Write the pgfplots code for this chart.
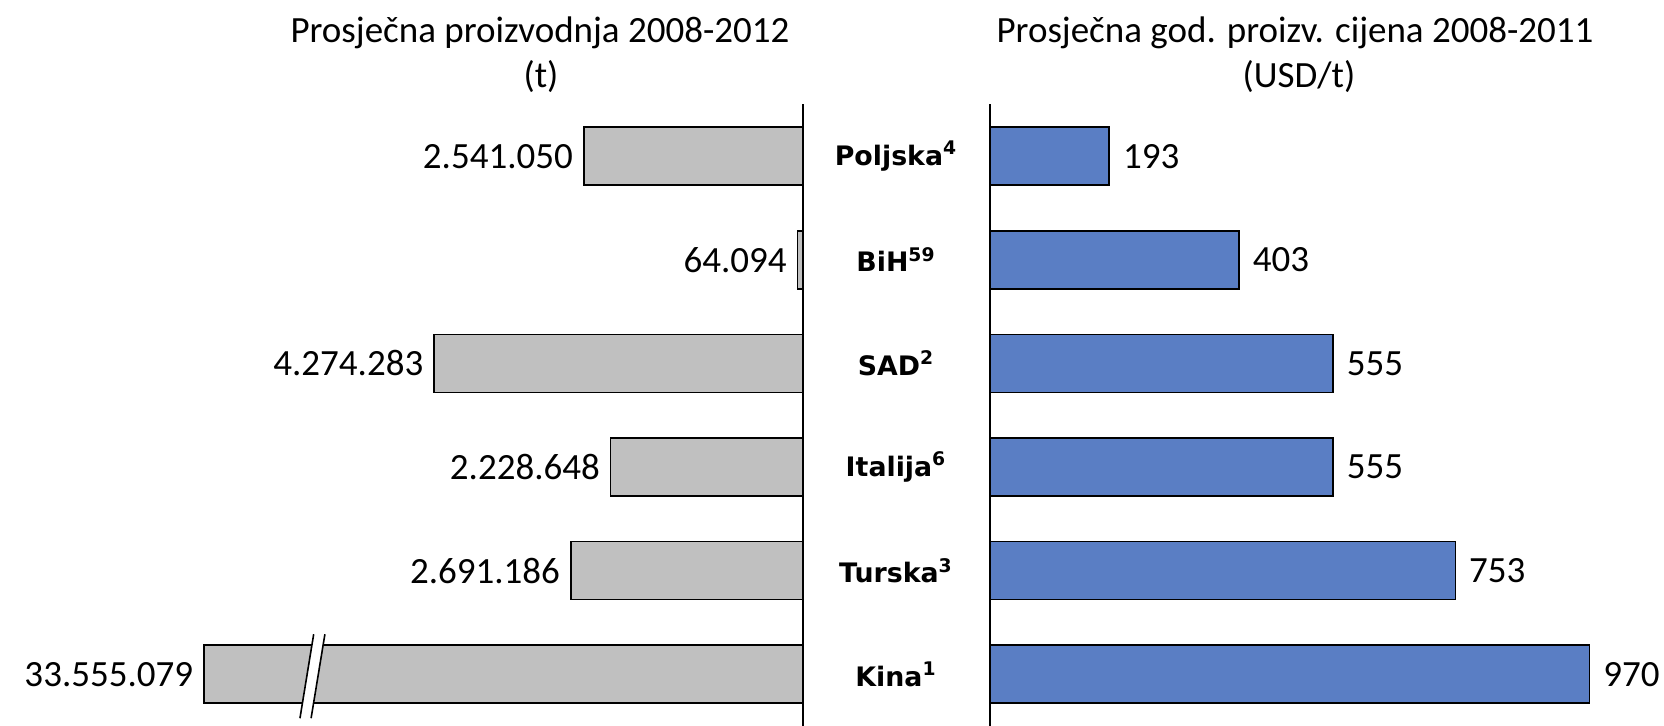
\documentclass[border=0pt]{standalone}
\usepackage{pgfplots}
\pgfplotsset{compat=1.18}
\usepackage{pgfplotstable}
\usepackage{fontspec}
\setmainfont{Carlito}
\newfontfamily\catfont{DejaVu Sans}
\definecolor{bargray}{RGB}{192,192,192}
\definecolor{barblue}{RGB}{90,126,196}

% production (t); Kina is drawn truncated (broken bar), its label shows the true value
\pgfplotstableread{
y x label
5 2541050 2.541.050
4 64094 64.094
3 4274283 4.274.283
2 2228648 2.228.648
1 2691186 2.691.186
0 6941000 33.555.079
}\prodtable
% price (USD/t)
\pgfplotstableread{
y x label
5 193 193
4 403 403
3 555 555
2 555 555
1 753 753
0 970 970
}\pricetable

\newcommand{\lblfont}{\fontsize{18.5}{22}\selectfont}
\newcommand{\catf}{\catfont\bfseries\fontsize{13.4}{16}\selectfont}

\begin{document}
\begin{tikzpicture}[x=0.5pt,y=0.5pt]
\useasboundingbox (0,0) rectangle (1664,726);
% titles
\node[font=\lblfont, inner sep=0pt] at (540,693) {Prosječna proizvodnja 2008-2012};
\node[font=\lblfont, inner sep=0pt] at (541,649) {(t)};
\node[font=\lblfont, inner sep=0pt] at (1295,693) {Prosječna god. proizv. cijena 2008-2011};
\node[font=\lblfont, inner sep=0pt] at (1299,649) {(USD/t)};

\begin{axis}[
  at={(0pt,0pt)}, anchor=south west, scale only axis,
  width=401.5pt, height=310.8pt,
  xbar, bar width=0.56,
  x dir=reverse, xmin=0, xmax=9305000,
  ymin=-0.5, ymax=5.5,
  hide axis, clip=false,
  point meta=explicit symbolic,
  nodes near coords,
  nodes near coords style={anchor=east, inner sep=0pt, xshift=-5pt, font=\lblfont, text=black},
]
\addplot[fill=bargray, draw=black, line width=0.8pt] table[x=x, y=y, meta=label]{\prodtable};
\draw[line width=1pt] (axis cs:0,-0.5) -- (axis cs:0,5.5);
% axis break on the Kina bar
\fill[white] (axis cs:5829000,-0.425) -- (axis cs:5700000,-0.425) -- (axis cs:5540000,0.386) -- (axis cs:5670000,0.386) -- cycle;
\draw[line width=0.8pt] (axis cs:5829000,-0.425) -- (axis cs:5670000,0.386);
\draw[line width=0.8pt] (axis cs:5700000,-0.425) -- (axis cs:5540000,0.386);
\end{axis}

\begin{axis}[
  at={(495pt,0pt)}, anchor=south west, scale only axis,
  width=337pt, height=310.8pt,
  xbar, bar width=0.56,
  xmin=0, xmax=1090.6,
  ymin=-0.5, ymax=5.5,
  axis x line=none, axis y line*=left,
  y axis line style={line width=1pt, black},
  ytick={0,1,2,3,4,5},
  yticklabels={Kina\textsuperscript{1}, Turska\textsuperscript{3}, Italija\textsuperscript{6}, SAD\textsuperscript{2}, BiH\textsuperscript{59}, Poljska\textsuperscript{4}},
  major tick length=0pt,
  yticklabel style={anchor=center, xshift=-47pt, font=\catf, text=black},
  clip=false,
  point meta=explicit symbolic,
  nodes near coords,
  nodes near coords style={anchor=west, inner sep=0pt, xshift=6.5pt, font=\lblfont, text=black},
]
\addplot[fill=barblue, draw=black, line width=0.8pt] table[x=x, y=y, meta=label]{\pricetable};
\end{axis}
\end{tikzpicture}
\end{document}
